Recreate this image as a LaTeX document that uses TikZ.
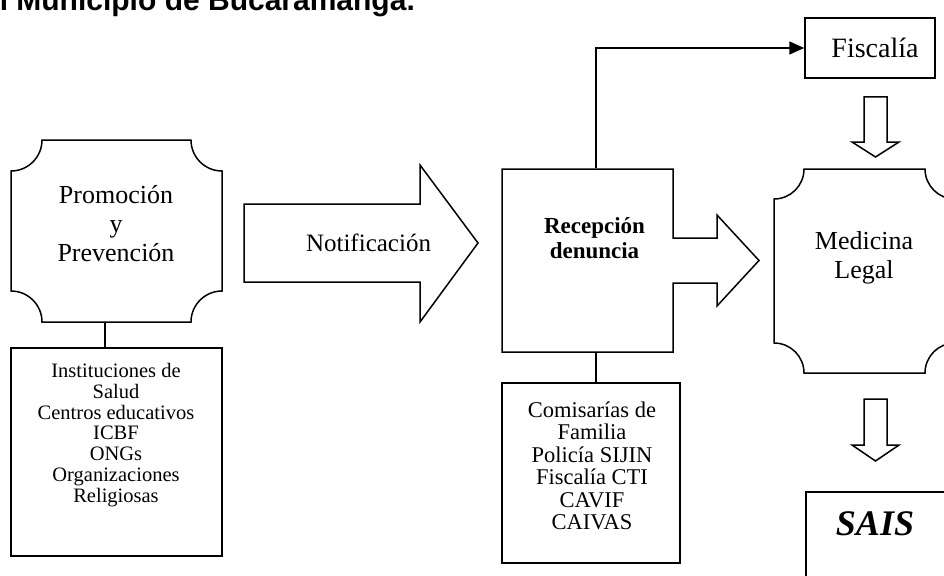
\documentclass[tikz,border=0pt]{standalone}
\usepackage{fontspec}
\setmainfont{Liberation Serif}
\newfontfamily\arialfam{Liberation Sans}
\usetikzlibrary{arrows.meta}
\newcommand\plaquedraw[5]{%
 \draw (#1+#5,#2) -- (#3-#5,#2)
   .. controls (#3-#5,#2+0.5523*#5) and (#3-0.5523*#5,#2+#5) .. (#3,#2+#5)
   -- (#3,#4-#5)
   .. controls (#3-0.5523*#5,#4-#5) and (#3-#5,#4-0.5523*#5) .. (#3-#5,#4)
   -- (#1+#5,#4)
   .. controls (#1+#5,#4-0.5523*#5) and (#1+0.5523*#5,#4-#5) .. (#1,#4-#5)
   -- (#1,#2+#5)
   .. controls (#1+0.5523*#5,#2+#5) and (#1+#5,#2+0.5523*#5) .. (#1+#5,#2) -- cycle;}
\begin{document}
\begin{tikzpicture}[x=1pt,y=-1pt,line width=1.5pt,line join=miter,
  txt/.style={align=center,inner sep=0pt},
  bigtxt/.style={txt,font=\fontsize{26}{29}\selectfont},
  listtxt/.style={txt,font=\fontsize{20.5}{20.8}\selectfont},
  list2txt/.style={txt,font=\fontsize{22.5}{22.5}\selectfont},
  boxnode/.style={draw,inner sep=0pt},
  ghost/.style={inner sep=0pt}]
\useasboundingbox (0,0) rectangle (944,575);
\clip (0,0) rectangle (944,575);

% title (clipped at the top edge, as in the reference)
\node[inner sep=0pt,anchor=base west,font=\arialfam\bfseries\fontsize{30}{34}\selectfont] (title) at (-36,11) {del Municipio de Bucaramanga.};

% Promocion y Prevencion (plaque)
\node[ghost,minimum width=211pt,minimum height=182pt] (promo) at (116.5,231) {};
\plaquedraw{11}{140}{222}{322}{31}
\node[bigtxt] (promotxt) at (116,224) {Promoción\\y\\Prevención};

% Instituciones box
\node[boxnode,minimum width=211pt,minimum height=208pt] (inst) at (116.5,452) {};
\node[listtxt] (insttxt) at (116,435) {Instituciones de\\Salud\\Centros educativos\\ICBF\\ONGs\\Organizaciones\\Religiosas};
\draw ([xshift=-11.5pt]promo.south) -- ([xshift=-11.5pt]promo.south |- inst.north);

% Notificacion block arrow
\draw (244,204) -- (420,204) -- (420,165) -- (478,243) -- (420,322) -- (420,282) -- (244,282) -- cycle;
\node[txt,font=\fontsize{25}{29}\selectfont] (notif) at (368.5,243) {Notificación};

% Recepcion denuncia box with arrow
\node[ghost,minimum width=171pt,minimum height=183pt] (recep) at (587.5,260.5) {};
\draw (502,169) -- (673,169) -- (673,238) -- (717,238) -- (717,215) -- (759,260.5) -- (717,306) -- (717,283) -- (673,283) -- (673,352) -- (502,352) -- cycle;
\node[txt,font=\fontsize{23}{25}\selectfont\bfseries] (receptxt) at (594.5,238) {Recepción\\denuncia};

% Comisarias box
\node[boxnode,minimum width=178pt,minimum height=180pt] (comis) at (591,473) {};
\node[list2txt] (comistxt) at (592,466) {Comisarías de\\Familia\\Policía SIJIN\\Fiscalía CTI\\CAVIF\\CAIVAS};
\draw ([xshift=8.5pt]recep.south) -- ([xshift=8.5pt]recep.south |- comis.north);

% Fiscalia
\node[boxnode,minimum width=130pt,minimum height=60pt] (fisc) at (870,48) {};
\node[txt,font=\fontsize{28}{30}\selectfont] (fisctxt) at (875,48) {Fiscalía};
\draw[-{Triangle[length=15pt,width=13pt]}] ([xshift=8.5pt]recep.north) |- (fisc.west);

% down arrow 1
\draw (864,97) -- (887,97) -- (887,142) -- (899,142) -- (875.5,157) -- (852,142) -- (864,142) -- cycle;

% Medicina Legal plaque
\node[ghost,minimum width=181pt,minimum height=204pt] (med) at (864.5,271) {};
\plaquedraw{774}{169}{955}{373}{30}
\node[bigtxt] (medtxt) at (864,258) {Medicina\\Legal};

% down arrow 2
\draw (864,399) -- (887,399) -- (887,445) -- (899,445) -- (875.5,461) -- (852,445) -- (864,445) -- cycle;

% SAIS
\node[boxnode,anchor=north west,minimum width=170pt,minimum height=120pt] (sais) at (805,491) {};
\node[txt,font=\fontsize{36}{40}\selectfont\bfseries\itshape] (saistxt) at (875,524) {SAIS};
\end{tikzpicture}
\end{document}
